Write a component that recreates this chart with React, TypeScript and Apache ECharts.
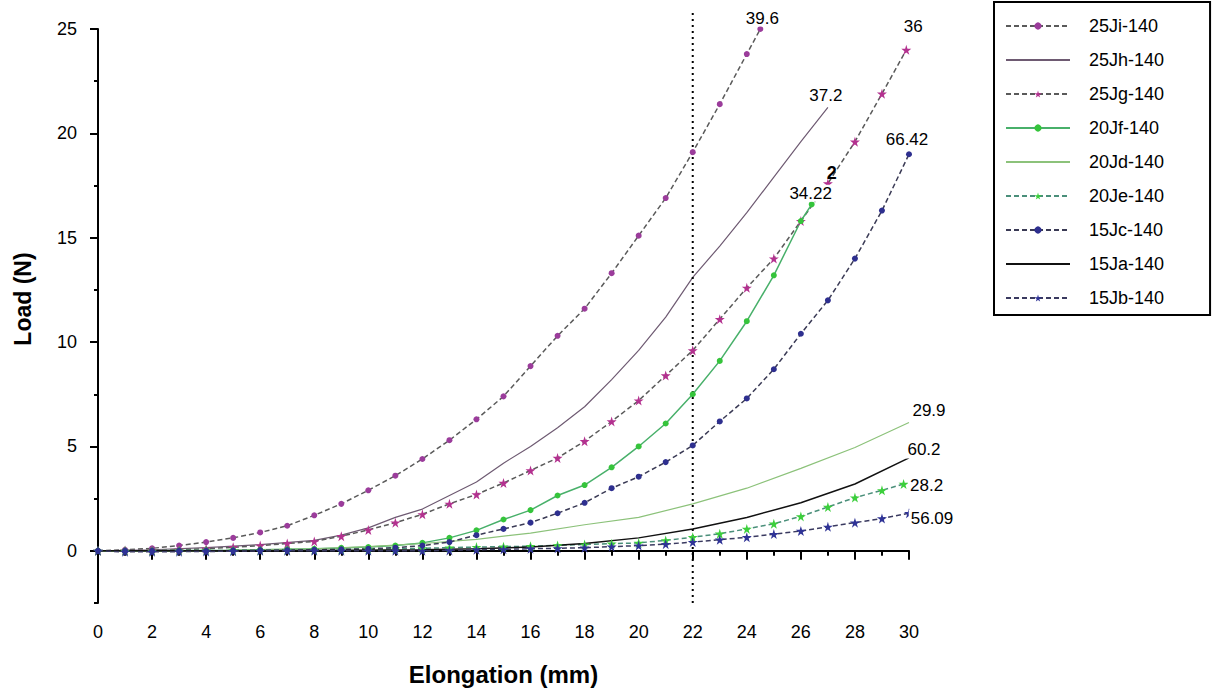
import React, { useEffect, useRef } from "react";
import * as echarts from "echarts";

// ---- data: [elongation (mm), load (N)] ----
const s25Ji = [[0,0],[1,0.05],[2,0.12],[3,0.25],[4,0.42],[5,0.62],[6,0.88],[7,1.2],[8,1.7],[9,2.25],[10,2.9],[11,3.6],[12,4.4],[13,5.3],[14,6.3],[15,7.4],[16,8.85],[17,10.3],[18,11.6],[19,13.3],[20,15.1],[21,16.9],[22,19.1],[23,21.4],[24,23.8],[24.5,25]];
const s25Jh = [[0,0],[2,0.05],[4,0.15],[6,0.3],[8,0.5],[9,0.75],[10,1.1],[11,1.6],[12,2.0],[13,2.65],[14,3.3],[15,4.2],[16,5.0],[17,5.9],[18,6.9],[19,8.2],[20,9.6],[21,11.2],[22,13.1],[23,14.6],[24,16.2],[25,17.9],[26,19.6],[27,21.25]];
const s25Jg = [[0,0],[1,0.01],[2,0.02],[3,0.05],[4,0.1],[5,0.17],[6,0.25],[7,0.35],[8,0.45],[9,0.7],[10,1.0],[11,1.35],[12,1.75],[13,2.25],[14,2.7],[15,3.25],[16,3.85],[17,4.45],[18,5.25],[19,6.2],[20,7.2],[21,8.4],[22,9.6],[23,11.1],[24,12.6],[25,14.0],[26,15.8],[27,17.6],[28,19.6],[29,21.9],[29.9,24.0]];
const s20Jf = [[0,0],[1,0],[2,0],[3,0.01],[4,0.02],[5,0.03],[6,0.05],[7,0.07],[8,0.1],[9,0.14],[10,0.18],[11,0.25],[12,0.38],[13,0.62],[14,0.98],[15,1.5],[16,1.95],[17,2.65],[18,3.15],[19,4.0],[20,5.0],[21,6.1],[22,7.5],[23,9.1],[24,11.0],[25,13.2],[26,15.8],[26.4,16.6]];
const s20Jd = [[0,0],[4,0],[8,0.1],[10,0.2],[12,0.35],[14,0.55],[16,0.85],[18,1.25],[20,1.6],[22,2.25],[24,3.0],[26,3.95],[28,4.95],[30,6.15]];
const s20Je = [[0,0],[1,0],[2,0],[3,0.01],[4,0.02],[5,0.02],[6,0.03],[7,0.04],[8,0.05],[9,0.06],[10,0.08],[11,0.1],[12,0.12],[13,0.15],[14,0.18],[15,0.2],[16,0.22],[17,0.26],[18,0.3],[19,0.34],[20,0.38],[21,0.5],[22,0.65],[23,0.82],[24,1.05],[25,1.3],[26,1.65],[27,2.1],[28,2.55],[29,2.9],[29.8,3.2]];
const s15Jc = [[0,0],[1,0],[2,0],[3,0],[4,0],[5,0.01],[6,0.02],[7,0.03],[8,0.05],[9,0.07],[10,0.1],[11,0.15],[12,0.25],[13,0.42],[14,0.75],[15,1.05],[16,1.35],[17,1.8],[18,2.3],[19,3.0],[20,3.55],[21,4.25],[22,5.05],[23,6.2],[24,7.3],[25,8.7],[26,10.4],[27,12.0],[28,14.0],[29,16.3],[30,19.0]];
const s15Ja = [[0,0],[4,0],[8,0.02],[12,0.05],[14,0.1],[16,0.18],[18,0.35],[20,0.62],[22,1.05],[24,1.6],[26,2.3],[28,3.2],[30,4.45]];
const s15Jb = [[0,0],[1,-0.05],[2,-0.05],[3,-0.04],[4,-0.03],[5,-0.02],[6,0],[7,0],[8,0],[9,0],[10,0],[11,0],[12,0],[13,0.02],[14,0.05],[15,0.07],[16,0.1],[17,0.12],[18,0.15],[19,0.2],[20,0.25],[21,0.32],[22,0.42],[23,0.53],[24,0.65],[25,0.8],[26,0.95],[27,1.15],[28,1.35],[29,1.55],[30,1.8]];
const refLine = [[22,-2.5],[22,25.8]];

const seriesNames = ["25Ji-140","25Jh-140","25Jg-140","20Jf-140","20Jd-140","20Je-140","15Jc-140","15Ja-140","15Jb-140"];
const plainLineSeries = ["25Jh-140","20Jd-140","15Ja-140"];
const endLabels = ["39.6","37.2","36","34.22","29.9","28.2","66.42","60.2","56.09"];
const xTicks = [0,2,4,6,8,10,12,14,16,18,20,22,24,26,28,30];
const yTicks = [0,5,10,15,20,25];
const yMinorTicks = [-2.5,0,2.5,5,7.5,10,12.5,15,17.5,20,22.5,25];

const STAR = "path://M50,0 L61,35 L98,35 L68,57 L79,91 L50,70 L21,91 L32,57 L2,35 L39,35 Z";
const FONT = "Liberation Sans, Arial, sans-serif";

function endMark(pt: number[], text: string, offset: number[], extra?: any[]) {
  const data: any[] = [{
    coord: pt,
    label: {
      show: true, formatter: text, offset, fontSize: 17, color: "#000", fontFamily: FONT,
      backgroundColor: "#fff", padding: [0, 2],
    },
  }];
  if (extra) data.push(...extra);
  return { symbol: "circle", symbolSize: 0, silent: true, data };
}

const last = (a: number[][]) => a[a.length - 1];

export default function App() {
  const ref = useRef<HTMLDivElement>(null);
  useEffect(() => {
    const chart = echarts.init(ref.current!, null, { renderer: "svg" });
    const dashed = (color: string, width = 1.5) => ({ type: [5, 3], color, width });
    const option: any = {
      animation: false,
      textStyle: { fontFamily: FONT },
      grid: { left: 98, right: 304, top: 29, bottom: 89 },
      legend: {
        orient: "vertical", left: 994, top: 2,
        data: seriesNames.map((n) => plainLineSeries.includes(n) ? { name: n, itemStyle: { opacity: 0 } } : n),
        itemWidth: 64, itemHeight: 9, itemGap: 16,
        borderColor: "#000", borderWidth: 2, padding: [15, 46, 8, 11],
        textStyle: { fontSize: 18, color: "#000", fontFamily: FONT, padding: [0, 0, 0, 14] },
      },
      xAxis: {
        type: "value", min: 0, max: 30, interval: 2,
        name: "Elongation (mm)", nameLocation: "middle", nameGap: 59,
        nameTextStyle: { fontSize: 24, fontWeight: "bold", color: "#000", fontFamily: FONT },
        axisLine: { lineStyle: { color: "#000", width: 2 } },
        axisTick: { length: 9, lineStyle: { color: "#000", width: 2 } },
        minorTick: { show: true, splitNumber: 2, length: 5, lineStyle: { color: "#000", width: 2 } },
        axisLabel: { fontSize: 18, color: "#000", margin: 20, customValues: xTicks },
        splitLine: { show: false },
      },
      yAxis: [
        {
          type: "value", min: -2.5, max: 25,
          name: "Load (N)", nameLocation: "middle", nameGap: 64,
          nameTextStyle: { fontSize: 23, fontWeight: "bold", color: "#000", fontFamily: FONT, padding: [0, 0, 0, 34] },
          axisLine: { show: true, lineStyle: { color: "#000", width: 2 } },
          axisTick: { show: true, length: 8, customValues: yTicks, lineStyle: { color: "#000", width: 2 } },
          axisLabel: { fontSize: 18, color: "#000", margin: 21, customValues: yTicks },
          splitLine: { show: false },
        },
        {
          type: "value", min: -2.5, max: 25, position: "left", offset: 0,
          axisLine: { show: false },
          axisTick: { show: true, length: 4, customValues: yMinorTicks, lineStyle: { color: "#000", width: 2 } },
          axisLabel: { show: false },
          splitLine: { show: false },
        },
      ],
      series: [
        {
          name: "25Ji-140", type: "line", data: s25Ji, symbol: "circle", symbolSize: 6,
          itemStyle: { color: "#9b3c9b" }, lineStyle: dashed("#5a5a5a"),
          markPoint: endMark(last(s25Ji), endLabels[0], [2, -11]),
        },
        {
          name: "25Jh-140", type: "line", data: s25Jh, symbol: "none",
          itemStyle: { color: "#7d4c86" }, lineStyle: { color: "#6e5a72", width: 1.2 },
          markPoint: endMark(last(s25Jh), endLabels[1], [-2, -12]),
        },
        {
          name: "25Jg-140", type: "line", data: s25Jg, symbol: STAR, symbolSize: 10,
          itemStyle: { color: "#b3318f" }, lineStyle: dashed("#5a5a5a"),
          markPoint: endMark(last(s25Jg), endLabels[2], [7, -23]),
        },
        {
          name: "20Jf-140", type: "line", data: s20Jf, symbol: "circle", symbolSize: 6,
          itemStyle: { color: "#35c43b" }, lineStyle: { color: "#48b06a", width: 1.5 },
          markPoint: endMark(last(s20Jf), endLabels[3], [-1, -11], [{
            coord: last(s20Jf),
            label: { show: true, formatter: "2", offset: [20, -31], fontSize: 18, fontWeight: "bold", color: "#000", fontFamily: FONT },
          }]),
        },
        {
          name: "20Jd-140", type: "line", data: s20Jd, symbol: "none",
          itemStyle: { color: "#52b86a" }, lineStyle: { color: "#8cc27a", width: 1.2 },
          markPoint: endMark(last(s20Jd), endLabels[4], [20, -12]),
        },
        {
          name: "20Je-140", type: "line", data: s20Je, symbol: STAR, symbolSize: 10,
          itemStyle: { color: "#3ccf3c" }, lineStyle: dashed("#4a8f7a"),
          markPoint: endMark(last(s20Je), endLabels[5], [23, 1]),
        },
        {
          name: "15Jc-140", type: "line", data: s15Jc, symbol: "circle", symbolSize: 6,
          itemStyle: { color: "#2e2f8f" }, lineStyle: dashed("#3a3a55"),
          markPoint: endMark(last(s15Jc), endLabels[6], [-2, -15]),
        },
        {
          name: "15Ja-140", type: "line", data: s15Ja, symbol: "none",
          itemStyle: { color: "#111" }, lineStyle: { color: "#111", width: 1.5 },
          markPoint: endMark(last(s15Ja), endLabels[7], [15, -8]),
        },
        {
          name: "15Jb-140", type: "line", data: s15Jb, symbol: STAR, symbolSize: 10,
          itemStyle: { color: "#2f3396" }, lineStyle: dashed("#3a3a60"),
          markPoint: endMark(last(s15Jb), endLabels[8], [23, 5]),
        },
        {
          name: "ref", type: "line", data: refLine, symbol: "none", clip: false, silent: true,
          lineStyle: { color: "#000", width: 2, type: [2, 4] },
        },
      ],
    };
    chart.setOption(option);
    return () => chart.dispose();
  }, []);
  return <div ref={ref} style={{ width: 1213, height: 692, position: "absolute", left: 0, top: 0 }} />;
}
